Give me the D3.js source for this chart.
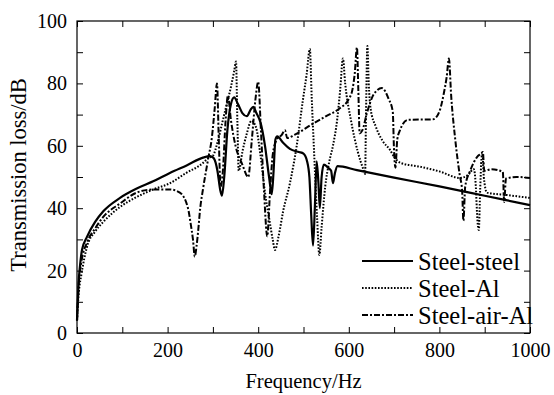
<!DOCTYPE html>
<html>
<head>
<meta charset="utf-8">
<script src="https://cdn.jsdelivr.net/npm/d3@7"></script>
<style>
  body { margin: 0; background: #fff; }
  text { font-family: "Liberation Serif", "Times New Roman", serif; fill: #000; }
</style>
</head>
<body>
<div id="chart"></div>
<script>
// [frequency Hz, transmission loss dB]
const steelSteel = [
  [0, 4], [3, 15], [7, 22], [11, 26.6], [22, 30.8], [40, 35.6], [58, 39], [95, 43.3],
  [132, 46.3], [168, 48.6], [205, 51.3], [243, 53.8], [278, 56.2], [294, 56.7], [302, 56],
  [310, 52], [316, 46], [320, 44], [325, 50], [332, 65], [340, 73.5], [347, 75.5],
  [355, 73.5], [365, 70.5], [375, 69.5], [383, 71.5], [389, 72.5], [396, 70.5], [405, 67.5],
  [415, 60], [424, 50], [430, 44.5], [434, 52], [438, 62], [442, 63], [455, 61],
  [470, 59], [490, 58], [500, 57.5], [508, 55], [513, 50], [517, 38], [521, 28],
  [525, 40], [529, 55], [533, 48], [536, 40], [540, 50], [545, 54], [554, 53],
  [561, 52], [565, 48], [569, 51], [575, 53.5], [618, 52.2], [700, 49.8], [800, 47],
  [900, 44], [1000, 41]
];

const steelAl = [
  [0, 4], [4, 13], [10, 19], [22, 27.6], [40, 32.5], [58, 35.6], [95, 40.4], [132, 43.6],
  [168, 46], [205, 48], [240, 51.2], [278, 54.5], [289, 56], [300, 56.8], [310, 61],
  [320, 67], [330, 73], [340, 79], [347, 84], [351, 87], [354, 68], [357, 52],
  [365, 58], [375, 64], [385, 68], [395, 66], [405, 57], [415, 45], [425, 36],
  [432, 30], [437, 26.6], [445, 31], [455, 39], [470, 48], [485, 60], [498, 74],
  [507, 83], [514, 91], [518, 76], [524, 56], [530, 37], [535, 25], [540, 34],
  [548, 47], [557, 55], [565, 60], [574, 68], [581, 78], [587, 88], [592, 80],
  [605, 68], [620, 58], [632, 52.5], [636, 51], [638, 70], [641, 92], [644, 80],
  [648, 72], [660, 66], [675, 61.5], [691, 58.7], [702, 56], [715, 54.5], [757, 53.3],
  [800, 51.8], [845, 49.7], [862, 50.5], [876, 52.5], [880, 48], [884, 36], [887, 33],
  [890, 46], [893, 56], [895, 57.7], [898, 50], [905, 45], [950, 44.2], [1000, 43.3]
];

const steelAirAl = [
  [0, 4], [4, 16], [10, 23], [22, 29], [40, 33.5], [58, 37.2], [95, 41.5], [132, 45],
  [168, 46], [205, 46], [227, 45], [245, 40], [251, 35], [256, 30], [260, 24.5],
  [264, 28], [267, 32], [272, 40], [278, 46], [289, 55.4], [298, 63], [304, 72],
  [309, 80], [313, 62], [317, 47], [322, 52], [328, 68], [333, 76], [340, 68],
  [350, 60], [365, 54], [378, 50], [386, 62], [394, 75], [400, 80.5], [406, 65],
  [413, 45], [420, 31], [426, 45], [432, 57], [441, 62], [452, 63.5], [459, 65],
  [464, 62.5], [480, 63.5], [520, 67], [550, 69.5], [580, 72], [600, 75], [608, 78],
  [613, 83], [618, 91.5], [621, 78], [624, 64], [630, 65], [640, 70.5], [655, 76.5],
  [673, 78.5], [688, 75], [697, 71], [700, 58], [703, 53], [707, 62], [713, 65],
  [730, 68.3], [786, 68.5], [800, 71], [810, 77], [816, 82], [821, 88], [826, 76],
  [835, 62], [845, 50.5], [850, 46], [853, 36], [857, 47], [868, 52], [883, 56.4],
  [892, 57.5], [896, 58], [899, 52], [915, 52.5], [940, 51.6], [943, 42], [947, 49.5],
  [970, 50], [1000, 49.7]
];

const series = [
  { name: "Steel-steel", data: steelSteel, dash: null, width: 2.2 },
  { name: "Steel-Al", data: steelAl, dash: "1.6,1.6", width: 2 },
  { name: "Steel-air-Al", data: steelAirAl, dash: "6,2,2,2", width: 2 }
];

const xTicks = [0, 100, 200, 300, 400, 500, 600, 700, 800, 900, 1000];
const yTicks = [0, 10, 20, 30, 40, 50, 60, 70, 80, 90, 100];

const width = 554, height = 395;
const margin = { left: 77, right: 24, top: 21, bottom: 62 };

const svg = d3.select("#chart")
  .append("svg")
  .attr("width", width)
  .attr("height", height);

const x = d3.scaleLinear().domain([0, 1000]).range([margin.left, width - margin.right]);
const y = d3.scaleLinear().domain([0, 100]).range([height - margin.bottom, margin.top]);

// inward ticks on all four sides
const tickLen = 6;
svg.append("g")
  .attr("transform", `translate(0,${y(0)})`)
  .call(d3.axisBottom(x).tickValues(xTicks).tickSize(-tickLen).tickPadding(10)
    .tickFormat(d => d % 200 === 0 ? d : ""))
  .call(g => g.select(".domain").remove())
  .call(g => g.selectAll("text").style("font-size", "20px").attr("dy", "0.71em"));

svg.append("g")
  .attr("transform", `translate(0,${y(100)})`)
  .call(d3.axisTop(x).tickValues(xTicks).tickSize(-tickLen).tickFormat(""))
  .call(g => g.select(".domain").remove());

svg.append("g")
  .attr("transform", `translate(${x(0)},0)`)
  .call(d3.axisLeft(y).tickValues(yTicks).tickSize(-tickLen).tickPadding(10)
    .tickFormat(d => d % 20 === 0 ? d : ""))
  .call(g => g.select(".domain").remove())
  .call(g => g.selectAll("text").style("font-size", "20px"));

svg.append("g")
  .attr("transform", `translate(${x(1000)},0)`)
  .call(d3.axisRight(y).tickValues(yTicks).tickSize(-tickLen).tickFormat(""))
  .call(g => g.select(".domain").remove());

svg.selectAll(".tick line").attr("stroke", "#000").attr("stroke-width", 1);

// frame
svg.append("rect")
  .attr("x", x(0))
  .attr("y", y(100))
  .attr("width", x(1000) - x(0))
  .attr("height", y(0) - y(100))
  .attr("fill", "none")
  .attr("stroke", "#000")
  .attr("stroke-width", 1.2);

const line = d3.line()
  .curve(d3.curveMonotoneX)
  .x(d => x(d[0]))
  .y(d => y(d[1]));

svg.append("g")
  .selectAll("path")
  .data(series.slice().reverse())
  .join("path")
  .attr("d", d => line(d.data))
  .attr("fill", "none")
  .attr("stroke", "#000")
  .attr("stroke-width", d => d.width)
  .attr("stroke-dasharray", d => d.dash)
  .attr("stroke-linejoin", "round");

// axis titles
svg.append("text")
  .attr("x", (x(0) + x(1000)) / 2)
  .attr("y", 388)
  .attr("text-anchor", "middle")
  .style("font-size", "20.5px")
  .text("Frequency/Hz");

svg.append("text")
  .attr("transform", `translate(26,${(y(0) + y(100)) / 2 - 2}) rotate(-90)`)
  .attr("text-anchor", "middle")
  .style("font-size", "22.5px")
  .text("Transmission loss/dB");

// legend
const legend = svg.append("g").attr("transform", "translate(362,261)");
const rows = legend.selectAll("g")
  .data(series)
  .join("g")
  .attr("transform", (d, i) => `translate(0,${i * 27})`);

rows.append("line")
  .attr("x1", 0).attr("x2", 51)
  .attr("stroke", "#000")
  .attr("stroke-width", d => d.width)
  .attr("stroke-dasharray", d => d.dash);

rows.append("text")
  .attr("x", 56)
  .attr("dy", "0.35em")
  .style("font-size", "24.5px")
  .text(d => d.name);
</script>
</body>
</html>
